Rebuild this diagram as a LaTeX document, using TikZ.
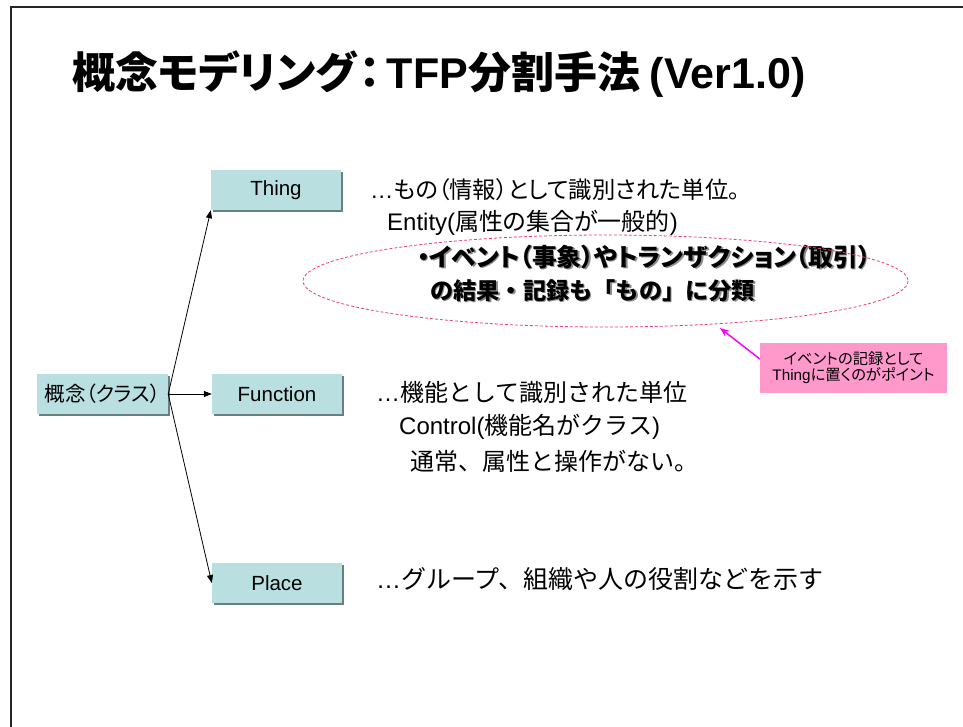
\documentclass[tikz,border=0pt]{standalone}
\usepackage{fontspec}
\setmainfont{Liberation Sans}
\newfontfamily\jp[RawFeature=+palt]{Noto Sans CJK JP}
\newfontfamily\jpf{Noto Sans CJK JP}
\usetikzlibrary{shadows,arrows.meta}
\newcommand\fsz[1]{\fontsize{#1}{#1}\selectfont}
\definecolor{boxfill}{RGB}{185,223,225}
\definecolor{boxshadow}{RGB}{105,128,130}
\definecolor{ellpink}{RGB}{240,60,130}
\definecolor{callfill}{RGB}{255,153,204}
\definecolor{callarrow}{RGB}{255,0,255}
\tikzset{
  classbox/.style={draw=none, fill=boxfill, minimum width=130pt, minimum height=40pt, inner sep=0pt,
    drop shadow={shadow xshift=2pt, shadow yshift=-2pt, fill=boxshadow, opacity=1}},
  txt/.style={anchor=base west, inner sep=0pt, text=black},
  conn/.style={draw=black, line width=0.8pt, -{Triangle[length=8pt,width=6pt]}},
}
\begin{document}
\begin{tikzpicture}[x=1pt,y=-1pt]
\path[use as bounding box, fill=white] (0,0) rectangle (963,726);
% slide frame
\draw[line width=1.6pt, black!85] (11,730) -- (11,7) -- (970,7);
% title
\node[txt] (title) at (72,88) {\fsz{43}\bfseries\jp 概念モデリング\hspace{3pt}：\hspace{6pt}{\rmfamily\bfseries TFP}分割手法 {\rmfamily\bfseries (Ver1.0)}};
% class boxes
\node[classbox, minimum width=131pt] (concept) at (102.5,394) {\fsz{20.5}\jp 概念（クラス）};
\node[classbox] (thing) at (276,190) {\fsz{20.5}Thing};
\node[classbox] (function) at (277,394) {\fsz{20.5}Function};
\node[classbox] (place) at (277,583) {\fsz{20.5}Place};
% connectors
\draw[conn] (concept.east) -- (thing.south west);
\draw[conn] (concept.east) -- (function.west);
\draw[conn] (concept.east) -- (place.west);
% thing texts
\node[txt] (t1) at (370,198) {\fsz{23.3}…{\jp もの（情報）として識別された単位。}};
\node[txt] (t2) at (387,230) {\fsz{24}Entity({\jp 属性の集合が一般的})};
\node[txt, text=black!45] (b1s) at (418.5,267.5) {\fsz{24.8}\bfseries\jp ・イベント（事象）やトランザクション（取引）};
\node[txt] (b1) at (417,266) {\fsz{24.8}\bfseries\jp ・イベント（事象）やトランザクション（取引）};
\node[txt, text=black!45] (b2s) at (431.5,300.5) {\fsz{23.2}\bfseries\jpf の結果・記録も「もの」に分類};
\node[txt] (b2) at (430,299) {\fsz{23.2}\bfseries\jpf の結果・記録も「もの」に分類};
% ellipse
\draw[ellpink, line width=0.8pt, dash pattern=on 3pt off 2pt] (605.5,281) ellipse [x radius=302.5, y radius=46];
% callout
\node[draw=none, fill=callfill, minimum width=187pt, minimum height=50pt, inner sep=0pt, align=center] (call) at (853.5,368) {\fsz{15.3}\jp イベントの記録として\\[1pt]\fsz{15.3}{\rmfamily Thing}\jp に置くのがポイント};
\coordinate (calltip) at (720,328);
\draw[callarrow, line width=1.5pt, -{Stealth[length=9pt,width=7pt]}] ([yshift=9pt]call.west) -- (calltip);
% function texts
\node[txt] (f1) at (376,401) {\fsz{24}…{\jpf 機能として識別された単位}};
\node[txt] (f2) at (399,434) {\fsz{24}Control({\jpf 機能名がクラス})};
\node[txt] (f3) at (410,470) {\fsz{24}\jpf 通常、属性と操作がない。};
% place text
\node[txt] (p1) at (376,588) {\fsz{25}…{\jpf グループ、組織や人の役割などを示す}};
\end{tikzpicture}
\end{document}
